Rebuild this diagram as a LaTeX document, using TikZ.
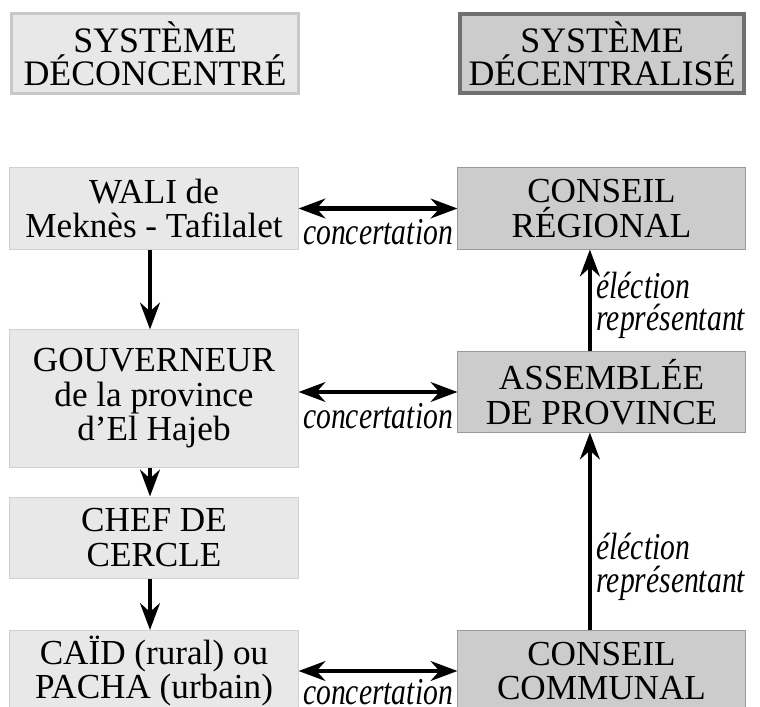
\documentclass[tikz,border=0pt]{standalone}
\usepackage{fontspec}
\setmainfont{Liberation Serif}
\newfontfamily\lblfont[FakeStretch=0.78]{Liberation Serif}
\usetikzlibrary{arrows.meta}
\definecolor{deconcfill}{HTML}{E8E8E8}
\definecolor{deconcedge}{HTML}{D0D0D0}
\definecolor{decenfill}{HTML}{CCCCCC}
\definecolor{decenedge}{HTML}{9A9A9A}
\definecolor{titleedge}{HTML}{C8C8C8}
\definecolor{titledark}{HTML}{707070}

\tikzset{
  deconc/.style={draw=deconcedge, fill=deconcfill, line width=0.7pt,
    minimum width=7.2cm, minimum height=2.025cm, inner sep=0pt,
    align=center, font=\fontsize{25}{24.5}\selectfont},
  decen/.style={deconc, draw=decenedge, fill=decenfill, minimum width=7.175cm},
  titleleft/.style={draw=titleedge, fill=deconcfill, line width=2.1pt,
    minimum width=7.175cm, minimum height=2cm, inner sep=0pt,
    align=center, font=\fontsize{25.5}{23.2}\selectfont},
  titleright/.style={titleleft, draw=titledark, fill=decenfill, line width=2.8pt,
    minimum width=7.1cm, minimum height=1.975cm},
  arr/.style={line width=3.3pt, -{Stealth[length=19pt, width=14pt]}},
  biarr/.style={line width=3.3pt, {Stealth[length=19pt, width=14pt]}-{Stealth[length=19pt, width=14pt]}},
  lbl/.style={font=\lblfont\itshape\fontsize{27}{23}\selectfont, inner sep=3pt}
}

\begin{document}
\begin{tikzpicture}[x=0.025cm, y=-0.025cm]
  \useasboundingbox (0,0) rectangle (760,707);
  \clip (0,0) rectangle (760,707);

  % the two systems
  \node[titleleft] (deconc) at (155,53.5) {SYSTÈME\\DÉCONCENTRÉ};
  \node[titleright] (decen) at (602,53.5) {SYSTÈME\\DÉCENTRALISÉ};

  % left column
  \node[deconc] (wali) at (154,208.5) {WALI de\\Meknès - Tafilalet};
  \node[deconc, minimum height=3.425cm] (gouv) at (154,398.5) {GOUVERNEUR\\de la province\\d'El Hajeb};
  \node[deconc] (chef) at (154,537.5) {CHEF DE\\CERCLE};
  \node[deconc] (caid) at (154,671) {CAÏD (rural) ou\\PACHA (urbain)};

  % right column
  \node[decen] (reg) at (601.5,208.5) {CONSEIL\\RÉGIONAL};
  \node[decen, minimum height=2cm] (asm) at (601.5,392) {ASSEMBLÉE\\DE PROVINCE};
  \node[decen] (comm) at (601.5,671) {CONSEIL\\COMMUNAL};

  % concertation
  \draw[biarr] (wali) -- node[lbl, anchor=base, yshift=-25.6pt] (conc1) {concertation} (reg);
  \draw[biarr] (asm.west -| gouv.east) -- node[lbl, anchor=base, yshift=-26pt] (conc2) {concertation} (asm.west);
  \draw[biarr] (caid) -- node[lbl, anchor=base, yshift=-24pt] (conc3) {concertation} (comm);

  % hierarchy
  \draw[arr] ([xshift=-0.1cm]wali.south) -- ([xshift=-0.1cm]gouv.north);
  \draw[arr] ([xshift=-0.1cm]gouv.south) -- ([xshift=-0.1cm]chef.north);
  \draw[arr] ([xshift=-0.1cm]chef.south) -- ([xshift=-0.1cm]caid.north);

  % election
  \draw[arr] ([xshift=-0.29cm]asm.north) -- node[lbl, pos=0.45, anchor=west, align=left] (elec1) {éléction\\représentant} ([xshift=-0.29cm]reg.south);
  \draw[arr] ([xshift=-0.29cm]comm.north) -- node[lbl, pos=0.32, anchor=west, align=left] (elec2) {éléction\\représentant} ([xshift=-0.29cm]asm.south);
\end{tikzpicture}
\end{document}
